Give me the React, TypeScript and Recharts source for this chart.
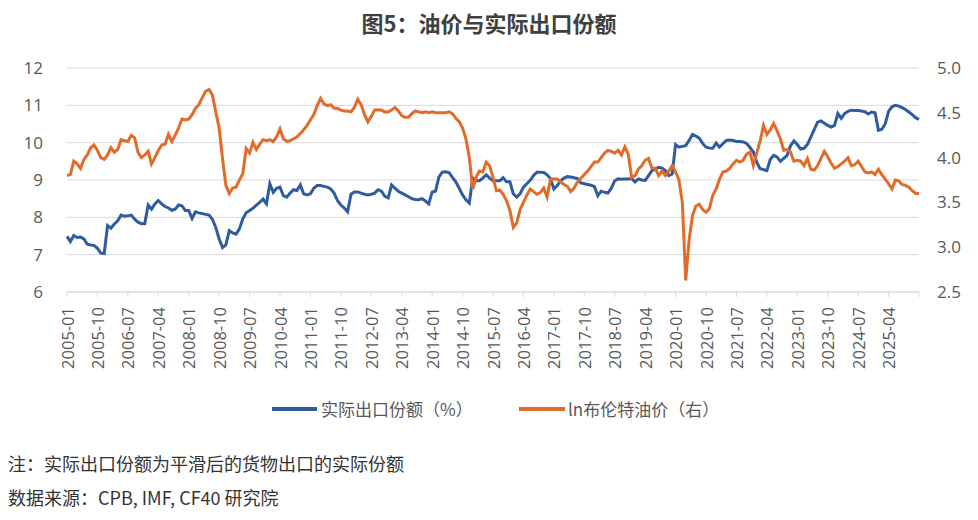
import React from "react";
import { LineChart, Line, XAxis, YAxis, CartesianGrid } from "recharts";

// Categories: monthly, 2005-01 .. 2026-01
const months: string[] = [];
for (let i = 0; i < 253; i++) {
  const y = 2005 + Math.floor(i / 12);
  const m = (i % 12) + 1;
  months.push(`${y}-${m < 10 ? "0" + m : m}`);
}

// 实际出口份额（%） — left axis
const exportShare: number[] = [
  7.49, 7.35, 7.51, 7.46, 7.47, 7.42, 7.28, 7.26, 7.25, 7.17, 7.04, 7.03,
  7.78, 7.71, 7.82, 7.91, 8.06, 8.03, 8.04, 8.06, 7.95, 7.87, 7.83, 7.83,
  8.33, 8.22, 8.36, 8.45, 8.36, 8.29, 8.25, 8.19, 8.22, 8.33, 8.31, 8.18,
  8.18, 7.97, 8.15, 8.12, 8.10, 8.08, 8.06, 7.95, 7.73, 7.42, 7.19, 7.26,
  7.64, 7.58, 7.55, 7.69, 7.96, 8.12, 8.18, 8.24, 8.33, 8.40, 8.49, 8.36,
  8.90, 8.67, 8.78, 8.81, 8.58, 8.54, 8.65, 8.74, 8.72, 8.87, 8.63, 8.60,
  8.63, 8.78, 8.85, 8.85, 8.83, 8.81, 8.76, 8.65, 8.45, 8.33, 8.25, 8.15,
  8.62, 8.68, 8.68, 8.65, 8.62, 8.60, 8.62, 8.65, 8.74, 8.70, 8.56, 8.52,
  8.87, 8.78, 8.70, 8.65, 8.60, 8.55, 8.50, 8.48, 8.47, 8.50, 8.44, 8.36,
  8.68, 8.70, 9.08, 9.21, 9.22, 9.20, 9.07, 8.95, 8.78, 8.60, 8.47, 8.38,
  9.05, 8.98, 8.98, 9.05, 9.14, 9.05, 8.98, 8.98, 8.98, 9.06, 8.95, 8.95,
  8.63, 8.54, 8.63, 8.81, 8.90, 8.99, 9.12, 9.21, 9.21, 9.20, 9.14, 9.04,
  8.76, 8.85, 8.98, 9.05, 9.09, 9.08, 9.06, 9.04, 8.92, 8.90, 8.88, 8.86,
  8.82, 8.58, 8.70, 8.67, 8.65, 8.78, 8.98, 9.03, 9.02, 9.03, 9.03, 9.04,
  8.95, 9.03, 9.00, 8.99, 9.12, 9.25, 9.30, 9.34, 9.32, 9.25, 9.12, 9.16,
  9.95, 9.88, 9.90, 9.92, 10.06, 10.22, 10.18, 10.12, 9.98, 9.88, 9.86, 9.85,
  9.99, 9.88, 9.97, 10.06, 10.07, 10.06, 10.03, 10.03, 10.02, 9.98, 9.87, 9.75,
  9.48, 9.30, 9.28, 9.25, 9.55, 9.66, 9.62, 9.50, 9.58, 9.66, 9.92, 10.05,
  9.95, 9.83, 9.85, 9.95, 10.15, 10.35, 10.55, 10.58, 10.52, 10.46, 10.42, 10.46,
  10.78, 10.65, 10.78, 10.84, 10.87, 10.86, 10.86, 10.85, 10.83, 10.77, 10.82, 10.80,
  10.33, 10.36, 10.50, 10.84, 10.96, 11.00, 10.98, 10.94, 10.89, 10.82, 10.75, 10.67,
  10.62,
];

// ln布伦特油价（右） — right axis
const brentLn: number[] = [
  3.80, 3.81, 3.96, 3.93, 3.88, 3.98, 4.03, 4.11, 4.14, 4.08, 4.00, 3.98,
  4.03, 4.11, 4.06, 4.09, 4.20, 4.19, 4.18, 4.25, 4.22, 4.06, 4.00, 4.03,
  4.07, 3.93, 4.00, 4.08, 4.14, 4.15, 4.26, 4.18, 4.25, 4.33, 4.43, 4.42,
  4.43, 4.48, 4.55, 4.59, 4.67, 4.74, 4.76, 4.70, 4.51, 4.33, 3.99, 3.69,
  3.60, 3.66, 3.67, 3.75, 3.82, 4.10, 4.05, 4.17, 4.09, 4.15, 4.20, 4.19,
  4.20, 4.18, 4.23, 4.32, 4.21, 4.18, 4.19, 4.21, 4.23, 4.27, 4.31, 4.36,
  4.42, 4.48, 4.58, 4.66, 4.60, 4.58, 4.59, 4.55, 4.55, 4.53, 4.52, 4.52,
  4.51, 4.56, 4.65, 4.59, 4.48, 4.40, 4.46, 4.53, 4.53, 4.53, 4.51, 4.51,
  4.53, 4.56, 4.52, 4.47, 4.45, 4.45, 4.49, 4.52, 4.51, 4.50, 4.51, 4.50,
  4.51, 4.50, 4.50, 4.50, 4.50, 4.51, 4.49, 4.44, 4.40, 4.33, 4.21, 4.00,
  3.65, 3.78, 3.85, 3.84, 3.95, 3.91, 3.78, 3.63, 3.64, 3.59, 3.52, 3.41,
  3.22, 3.27, 3.42, 3.50, 3.58, 3.65, 3.62, 3.59, 3.61, 3.66, 3.56, 3.76,
  3.76, 3.76, 3.73, 3.70, 3.68, 3.62, 3.66, 3.73, 3.77, 3.81, 3.85, 3.90,
  3.95, 3.95, 4.00, 4.05, 4.08, 4.07, 4.05, 4.08, 4.03, 4.12, 4.04, 3.78,
  3.80, 3.87, 3.91, 3.97, 3.99, 3.88, 3.88, 3.80, 3.85, 3.80, 3.85, 3.91,
  3.84, 3.75, 3.50, 2.63, 3.08, 3.35, 3.46, 3.48, 3.42, 3.39, 3.43, 3.58,
  3.65, 3.76, 3.84, 3.85, 3.88, 3.93, 3.97, 3.95, 3.97, 4.04, 4.06, 3.91,
  4.05, 4.18, 4.36, 4.26, 4.31, 4.38, 4.30, 4.21, 4.08, 4.09, 4.06, 3.96,
  3.97, 3.96, 3.91, 3.99, 3.87, 3.86, 3.91, 3.99, 4.07, 4.01, 3.94, 3.88,
  3.90, 3.93, 3.96, 4.00, 3.91, 3.92, 3.96, 3.90, 3.84, 3.83, 3.84, 3.81,
  3.87, 3.81, 3.76, 3.71, 3.65, 3.75, 3.74, 3.70, 3.69, 3.67, 3.63, 3.60,
  3.60,
];

const leftTicks = [6, 7, 8, 9, 10, 11, 12];
const rightTicks = [2.5, 3, 3.5, 4, 4.5, 5];
const labelStep = 9;
const lastLabel = "2025-04";

const seriesNames = { share: "实际出口份额（%）", oil: "ln布伦特油价（右）" };
const titleText = "图5：油价与实际出口份额";
const noteText = "注：实际出口份额为平滑后的货物出口的实际份额";
const sourceText = "数据来源：CPB, IMF, CF40 研究院";

const BLUE = "#2E5C9F";
const ORANGE = "#E36B29";
const GRID = "#d9d9d9";
const TICK_FONT = "'Open Sans', 'Noto Sans', sans-serif";
const CJK_FONT = "'Noto Sans CJK SC', 'Noto Sans', sans-serif";

const data = months.map((m, i) => ({ month: m, share: exportShare[i], oil: brentLn[i] }));
const lastLabelIndex = months.indexOf(lastLabel);

const XTick = (props: any) => {
  const { x, y, payload } = props;
  const idx = payload && typeof payload.index === "number" ? payload.index : props.index;
  if (idx % labelStep !== 0) return <g />;
  return (
    <g>
      <line x1={x} x2={x} y1={y} y2={y + 5} stroke={GRID} strokeWidth={1} />
      {idx <= lastLabelIndex && (
        <text
          transform={`translate(${x},${y + 15}) rotate(-90)`}
          textAnchor="end"
          dominantBaseline="central"
          fill="#595959"
          fontSize={16.5}
          fontFamily={TICK_FONT}
        >
          {payload.value}
        </text>
      )}
    </g>
  );
};

export default function App() {
  return (
    <div
      style={{
        position: "absolute",
        left: 0,
        top: 0,
        width: 978,
        height: 520,
        background: "#ffffff",
        overflow: "hidden",
      }}
    >
      <div
        style={{
          position: "absolute",
          left: 0,
          top: 9,
          width: 978,
          textAlign: "center",
          fontFamily: CJK_FONT,
          fontWeight: 700,
          fontSize: 22,
          lineHeight: "26px",
          color: "#404040",
        }}
      >
        {titleText}
      </div>
      <LineChart
        width={978}
        height={520}
        data={data}
        margin={{ top: 68, right: 9, bottom: 148, left: 9 }}
      >
        <CartesianGrid yAxisId="left" vertical={false} stroke={GRID} strokeWidth={1} />
        <XAxis
          dataKey="month"
          interval={0}
          tick={<XTick />}
          tickLine={false}
          tickSize={0}
          tickMargin={0}
          height={80}
          axisLine={{ stroke: GRID, strokeWidth: 1 }}
        />
        <YAxis
          yAxisId="left"
          orientation="left"
          domain={[6, 12]}
          ticks={leftTicks}
          interval={0}
          width={58}
          axisLine={false}
          tickLine={false}
          tickSize={0}
          tickMargin={24}
          tick={{ fill: "#595959", fontSize: 17, fontFamily: TICK_FONT }}
        />
        <YAxis
          yAxisId="right"
          orientation="right"
          domain={[2.5, 5]}
          ticks={rightTicks}
          interval={0}
          width={50}
          axisLine={false}
          tickLine={false}
          tickSize={0}
          tickMargin={18}
          tickFormatter={(v: number) => v.toFixed(1)}
          tick={{ fill: "#595959", fontSize: 17, fontFamily: TICK_FONT }}
        />
        <Line
          yAxisId="left"
          type="linear"
          dataKey="share"
          name={seriesNames.share}
          stroke={BLUE}
          strokeWidth={3}
          dot={false}
          isAnimationActive={false}
        />
        <Line
          yAxisId="right"
          type="linear"
          dataKey="oil"
          name={seriesNames.oil}
          stroke={ORANGE}
          strokeWidth={3}
          dot={false}
          isAnimationActive={false}
        />
      </LineChart>

      <div
        style={{
          position: "absolute",
          top: 398,
          left: 0,
          width: 978,
          height: 20,
          fontFamily: CJK_FONT,
          fontSize: 17,
          color: "#595959",
        }}
      >
        <div style={{ position: "absolute", left: 272, top: 9, width: 45, height: 4, background: BLUE }} />
        <div style={{ position: "absolute", left: 321, top: 0, lineHeight: "21px", whiteSpace: "nowrap" }}>
          {seriesNames.share}
        </div>
        <div style={{ position: "absolute", left: 519, top: 9, width: 46, height: 4, background: ORANGE }} />
        <div style={{ position: "absolute", left: 568, top: 0, lineHeight: "21px", whiteSpace: "nowrap" }}>
          {seriesNames.oil}
        </div>
      </div>

      <div
        style={{
          position: "absolute",
          left: 8,
          top: 451,
          fontFamily: CJK_FONT,
          fontSize: 18,
          lineHeight: "24px",
          color: "#333333",
          whiteSpace: "nowrap",
        }}
      >
        {noteText}
      </div>
      <div
        style={{
          position: "absolute",
          left: 8,
          top: 485,
          fontFamily: CJK_FONT,
          fontSize: 18,
          lineHeight: "24px",
          color: "#333333",
          whiteSpace: "nowrap",
        }}
      >
        {sourceText}
      </div>
    </div>
  );
}
